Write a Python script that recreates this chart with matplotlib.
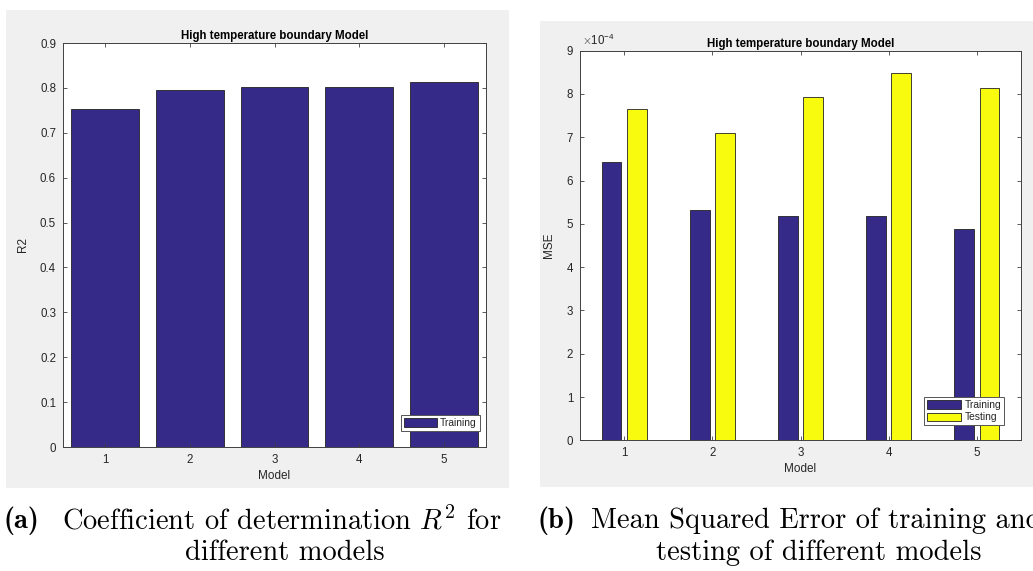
import matplotlib
matplotlib.use("Agg")
import matplotlib.pyplot as plt
from matplotlib.patches import Rectangle
from matplotlib.ticker import FuncFormatter
import numpy as np

# ---- data ----
models = [1, 2, 3, 4, 5]
r2_training = [0.754, 0.796, 0.802, 0.802, 0.813]
mse_training = [6.42e-4, 5.32e-4, 5.18e-4, 5.18e-4, 4.88e-4]
mse_testing = [7.65e-4, 7.10e-4, 7.93e-4, 8.49e-4, 8.14e-4]
r2_yticks = [0, 0.1, 0.2, 0.3, 0.4, 0.5, 0.6, 0.7, 0.8, 0.9]
r2_yticklabels = ["0", "0.1", "0.2", "0.3", "0.4", "0.5", "0.6", "0.7", "0.8", "0.9"]
mse_yticks = [i * 1e-4 for i in range(10)]

W, H = 1033, 571
BLUE = "#352a87"
YELLOW = "#f9fb0e"
AXC = "#404040"
TXT = "#262626"
SANS = "Liberation Sans"

plt.rcParams["mathtext.fontset"] = "cm"
plt.rcParams["font.family"] = [SANS, "DejaVu Sans"]

fig = plt.figure(figsize=(W / 100, H / 100), dpi=100)
fig.patch.set_facecolor("white")


def px_rect(x0, y0, x1, y1):
    """Convert pixel box (top-left origin) to figure fraction rect."""
    return [x0 / W, 1 - y1 / H, (x1 - x0) / W, (y1 - y0) / H]


# grey figure panels behind each plot
for (x0, y0, x1, y1) in [(6, 10, 509, 488), (540, 21, 1033, 487)]:
    r = px_rect(x0, y0, x1, y1)
    fig.patches.append(Rectangle((r[0], r[1]), r[2], r[3], transform=fig.transFigure,
                                 facecolor="#f0f0f0", edgecolor="none", zorder=-10))


def style_axes(ax):
    ax.set_facecolor("white")
    for s in ax.spines.values():
        s.set_color(AXC)
        s.set_linewidth(0.7)
    ax.tick_params(direction="in", top=True, right=True, length=3, width=0.6,
                   colors=AXC, labelcolor=TXT, labelsize=8.3, pad=5)
    ax.set_xlim(0.5, 5.5)
    ax.set_xticks(models)
    ax.set_xticklabels([str(m) for m in models])


def style_legend(leg):
    fr = leg.get_frame()
    fr.set_edgecolor("#555555")
    fr.set_linewidth(0.7)
    for t in leg.get_texts():
        t.set_color(TXT)


# ---- (a) R2 ----
ax1 = fig.add_axes(px_rect(63, 43, 486, 447))
style_axes(ax1)
ax1.bar(models, r2_training, width=0.8, color=BLUE, edgecolor="#222222",
        linewidth=0.6, label="Training")
ax1.set_ylim(0, 0.9)
ax1.set_yticks(r2_yticks)
ax1.set_yticklabels(r2_yticklabels)
ax1.set_title("High temperature boundary Model", fontsize=8.3, fontweight="bold",
              color="black", pad=3)
ax1.set_xlabel("Model", fontsize=8.5, color=TXT, labelpad=3)
ax1.set_ylabel("R2", fontsize=8.5, color=TXT, labelpad=8)
leg1 = ax1.legend(loc="lower right", bbox_to_anchor=(0.986, 0.04), fontsize=7.4,
                  frameon=True, fancybox=False, framealpha=1, handlelength=3.2,
                  handleheight=1.0, handletextpad=0.3, borderpad=0.3, borderaxespad=0)
style_legend(leg1)

# ---- (b) MSE ----
ax2 = fig.add_axes(px_rect(580, 50.7, 1021, 440.3))
style_axes(ax2)
x = np.array(models, dtype=float)
off = 0.143
bw = 0.226
ax2.bar(x - off, mse_training, width=bw, color=BLUE, edgecolor="#222222",
        linewidth=0.6, label="Training")
ax2.bar(x + off, mse_testing, width=bw, color=YELLOW, edgecolor="#222222",
        linewidth=0.6, label="Testing")
ax2.set_ylim(0, 9e-4)
ax2.set_yticks(mse_yticks)
ax2.yaxis.set_major_formatter(FuncFormatter(lambda v, p: f"{v / 1e-4:.0f}"))
ax2.set_title("High temperature boundary Model", fontsize=8.3, fontweight="bold",
              color="black", pad=3)
ax2.set_xlabel("Model", fontsize=8.5, color=TXT, labelpad=3)
ax2.set_ylabel("MSE", fontsize=8.5, color=TXT, labelpad=8)
ax2.text(0.004, 1.008, r"$\times\mathregular{10^{-4}}$", transform=ax2.transAxes,
         fontsize=8.3, color=TXT, ha="left", va="bottom")
leg2 = ax2.legend(loc="lower right", bbox_to_anchor=(0.962, 0.038), fontsize=7.4,
                  frameon=True, fancybox=False, framealpha=1, handlelength=3.3,
                  handleheight=0.9, handletextpad=0.3, borderpad=0.3,
                  labelspacing=0.25, borderaxespad=0)
style_legend(leg2)

# ---- captions ----
cap_fs = 20.5


def fig_text(xp, yp, s, **kw):
    fig.text(xp / W, 1 - yp / H, s, va="center", **kw)


fig_text(3, 521, "(a)", family="cmb10", fontsize=cap_fs, color="black")
fig_text(62, 521, r"Coefficient of determination $R^2$ for", family="cmr10",
         fontsize=cap_fs, color="black")
fig_text(284.5, 553, "different models", family="cmr10", fontsize=cap_fs,
         color="black", ha="center")

fig_text(538, 521, "(b)", family="cmb10", fontsize=cap_fs, color="black")
fig_text(591, 521, "Mean Squared Error of training and", family="cmr10",
         fontsize=cap_fs, color="black")
fig_text(819, 553, "testing of different models", family="cmr10", fontsize=cap_fs,
         color="black", ha="center")

fig.savefig("out.png", dpi=100, facecolor="white")
